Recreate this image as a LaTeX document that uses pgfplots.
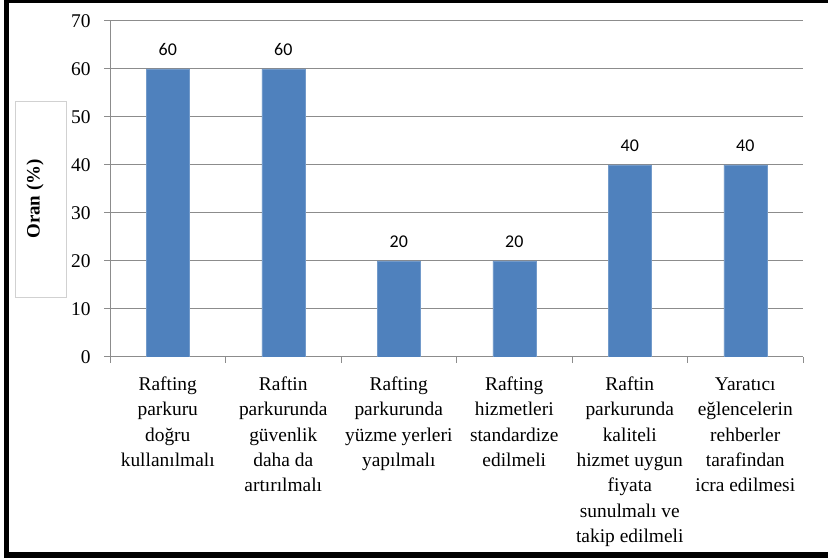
\documentclass[border=0pt]{standalone}
\usepackage{fontspec}
\setmainfont{Liberation Serif}
\newfontfamily\timesf{Liberation Serif}
\newfontfamily\calibri{Carlito}
\usepackage{array}
\usepackage{pgfplots}
\pgfplotsset{compat=1.18}
\definecolor{barblue}{HTML}{4F81BD}
\definecolor{gridgray}{HTML}{8C8C8C}
\newcommand\lfont{\timesf\fontsize{19.5}{25.5}\selectfont}
\newcommand\lbl[1]{{\lfont\begin{tabular}{@{}>{\lfont}c@{}}#1\end{tabular}}}
\newcommand\ynum[1]{{\timesf\fontsize{19.5}{22}\selectfont #1}}
\begin{document}
\begin{tikzpicture}[x=1bp,y=1bp]
\useasboundingbox (0,0) rectangle (828,558);
\fill[white] (0,0) rectangle (828,558);
\fill[black] (4,0) rectangle (9,558);
\fill[black] (4,555) rectangle (828,558);
\fill[black] (4,0) rectangle (828,6);
\draw[color=black!18, line width=1bp] (15,260) rectangle (66,456);
\node[rotate=90, font=\timesf\bfseries\fontsize{19}{22}\selectfont] at (35,359) {Oran (\%)};
\begin{axis}[
  at={(110bp,201bp)}, anchor=south west,
  scale only axis, width=693bp, height=336bp,
  xmin=-0.5, xmax=5.5, ymin=0, ymax=70,
  ytick={0,10,20,30,40,50,60,70},
  yticklabels={\ynum{0},\ynum{10},\ynum{20},\ynum{30},\ynum{40},\ynum{50},\ynum{60},\ynum{70}},
  ymajorgrids, grid style={gridgray, line width=1bp},
  axis x line*=bottom, axis y line*=left,
  axis line style={gridgray, line width=1bp, -},
  tick style={gridgray, line width=1bp},
  tick align=outside, major tick length=6bp,
  /pgf/number format/assume math mode=true,
  yticklabel style={text=black, xshift=-10bp},
  xtick={-0.5,0.5,...,5.5}, xticklabels={},
  extra x ticks={0,1,2,3,4,5},
  extra x tick style={major tick length=0pt, grid=none},
  extra x tick labels={
    {\lbl{Rafting\\parkuru\\doğru\\kullanılmalı}},
    {\lbl{Raftin\\parkurunda\\güvenlik\\daha da\\artırılmalı}},
    {\lbl{Rafting\\parkurunda\\yüzme yerleri\\yapılmalı}},
    {\lbl{Rafting\\hizmetleri\\standardize\\edilmeli}},
    {\lbl{Raftin\\parkurunda\\kaliteli\\hizmet uygun\\fiyata\\sunulmalı ve\\takip edilmeli}},
    {\lbl{Yaratıcı\\eğlencelerin\\rehberler\\tarafindan\\icra edilmesi}}},
  xticklabel style={text=black, anchor=north, yshift=-12bp},
  ybar, bar width=43bp,
  nodes near coords={\calibri\fontsize{18}{20}\selectfont\pgfmathprintnumber[assume math mode=true]{\pgfplotspointmeta}},
  nodes near coords style={text=black, anchor=base, yshift=13bp},
]
\addplot[fill=barblue, draw=barblue!80!white] coordinates {(0,60) (1,60) (2,20) (3,20) (4,40) (5,40)};
\end{axis}
\end{tikzpicture}
\end{document}
